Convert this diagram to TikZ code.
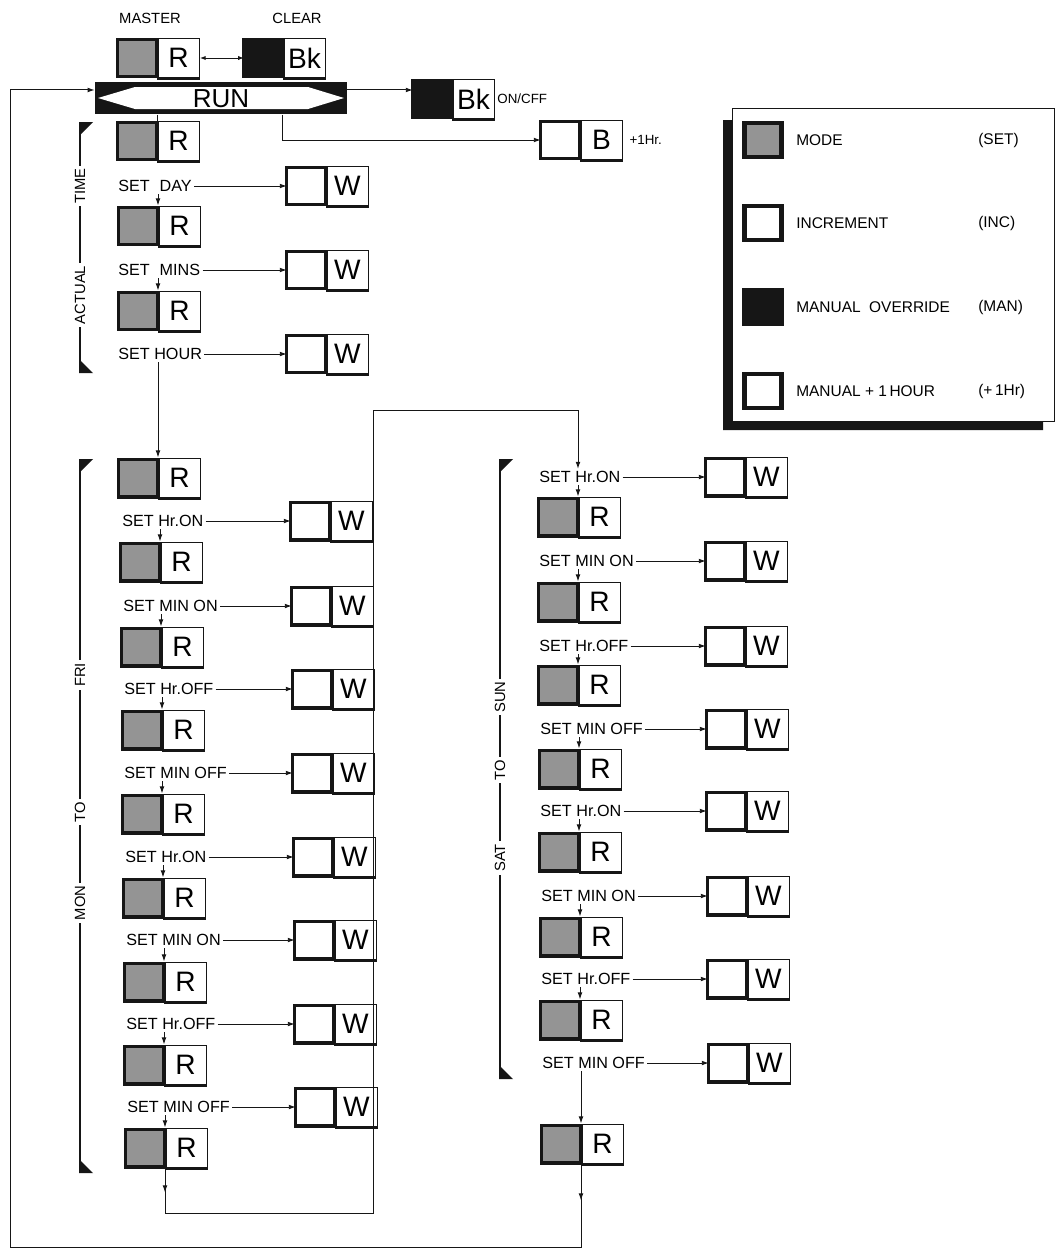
\documentclass[tikz,border=0pt]{standalone}
\usepackage{fontspec}
\setmainfont{Liberation Sans}
\usetikzlibrary{arrows.meta}
\definecolor{modegray}{RGB}{148,148,148}
\definecolor{ink}{RGB}{22,22,22}
\tikzset{
  keyface/.style={draw=ink,fill=white,line width=0.7pt,minimum width=1.05cm,minimum height=1cm,inner sep=0pt,font=\fontsize{20}{20}\selectfont},
  keyside/.style={draw=ink,fill=white,line width=2.4pt,outer sep=0pt,minimum width=0.98cm,minimum height=0.94cm,inner sep=0pt},
  keyfoot/.style={draw=ink,line width=2pt},
  lbl/.style={anchor=west,inner sep=1.5pt,font=\fontsize{11.5}{12}\selectfont},
  wire/.style={draw=ink,line width=0.7pt},
  arr/.style={wire,-{Latex[length=5pt,width=3.4pt]}},
  brk/.style={fill=white,rotate=90,inner sep=2pt,font=\fontsize{10.5}{12}\selectfont},
  legbox/.style={draw=ink,line width=3pt,minimum width=0.92cm,minimum height=0.85cm},
  lgtxt/.style={anchor=west,inner sep=0pt,font=\fontsize{11}{12}\selectfont},
}
\begin{document}
\begin{tikzpicture}[x=0.025cm,y=-0.025cm]
\useasboundingbox (0,0) rectangle (1060,1258);

\node[font=\fontsize{10.5}{12}\selectfont] (mastertxt) at (150,18) {MASTER};
\node[font=\fontsize{10.5}{12}\selectfont] (cleartxt) at (297,18) {CLEAR};
\node[keyface,anchor=west] (master) at (157,58) {R};
\node[keyside,fill=modegray,anchor=east] (master-s) at (master.west) {};
\draw[keyfoot] (master.south west) -- (master.south east);
\node[keyface,anchor=west] (clear) at (283,58) {Bk};
\node[keyside,fill=ink,anchor=east] (clear-s) at (clear.west) {};
\draw[keyfoot] (clear.south west) -- (clear.south east);
\draw[wire,{Latex[length=4pt,width=3pt]}-{Latex[length=4pt,width=3pt]}] (master.east) -- (clear-s.west);

\node[fill=ink,minimum width=6.3cm,minimum height=0.82cm,inner sep=0pt] (run) at (221,98) {};
\fill[white] (98,98) -- (135,87) -- (308,87) -- (344,98) -- (308,109) -- (135,109) -- cycle;
\node[font=\fontsize{18.5}{19}\selectfont,inner sep=0pt] (runtxt) at (221,99) {RUN};

\node[keyface,anchor=west] (onoff) at (452,99) {Bk};
\node[keyside,fill=ink,anchor=east] (onoff-s) at (onoff.west) {};
\draw[keyfoot] (onoff.south west) -- (onoff.south east);
\node[lbl,font=\fontsize{9.5}{10}\selectfont] (onofftxt) at (onoff.east) {ON/CFF};
\coordinate (runout) at ([yshift=5.7pt]run.east);
\draw[arr] (runout) -- (runout -| onoff-s.west);

\node[keyface,anchor=west] (plus1) at (580,140) {B};
\node[keyside,anchor=east] (plus1-s) at (plus1.west) {};
\draw[keyfoot] (plus1.south west) -- (plus1.south east);
\node[lbl,font=\fontsize{9.5}{10}\selectfont] (plus1txt) at ([xshift=3pt]plus1.east) {+1Hr.};
\coordinate (runtap) at ([xshift=44pt]run.south);
\draw[arr] (runtap) |- (plus1-s.west);

\node[keyface,anchor=west] (t0) at (157,141) {R};
\node[keyside,fill=modegray,anchor=east] (t0-s) at (t0.west) {};
\draw[keyfoot] (t0.south west) -- (t0.south east);
\draw[wire] (run.south -| t0.north west) -- (t0.north west);

\foreach \i/\yl/\yr/\txt in {1/186/226/{SET\hspace{7pt}DAY}, 2/270/311/{SET\hspace{7pt}MINS}, 3/354/478/{SET HOUR}}{
  \node[lbl] (tl\i) at (116,\yl) {\txt};
  \node[keyface,anchor=west] (tw\i) at (326,\yl) {W};
  \node[keyside,anchor=east] (tw\i-s) at (tw\i.west) {};
  \draw[keyfoot] (tw\i.south west) -- (tw\i.south east);
  \draw[arr] (tl\i.east) -- (tw\i-s.west);
  \node[keyface,anchor=west] (t\i) at (158,\yr) {R};
  \node[keyside,fill=modegray,anchor=east] (t\i-s) at (t\i.west) {};
  \draw[keyfoot] (t\i.south west) -- (t\i.south east);
  \draw[arr] (tl\i.south -| t\i.north west) -- (t\i.north west);
}

\foreach \i/\d/\yl/\yr/\txt in {1/1/521/562/SET Hr.ON, 2/2/606/647/SET MIN ON, 3/3/689/730/SET Hr.OFF, 4/3/773/814/SET MIN OFF,
  5/4/857/898/SET Hr.ON, 6/5/940/982/SET MIN ON, 7/5/1024/1065/SET Hr.OFF, 8/6/1107/1148/SET MIN OFF}{
  \node[lbl] (al\i) at (119+\d,\yl) {\txt};
  \node[keyface,anchor=west] (aw\i) at (329+\d,\yl) {W};
  \node[keyside,anchor=east] (aw\i-s) at (aw\i.west) {};
  \draw[keyfoot] (aw\i.south west) -- (aw\i.south east);
  \draw[arr] (al\i.east) -- (aw\i-s.west);
  \node[keyface,anchor=west] (a\i) at (159+\d,\yr) {R};
  \node[keyside,fill=modegray,anchor=east] (a\i-s) at (a\i.west) {};
  \draw[keyfoot] (a\i.south west) -- (a\i.south east);
  \draw[arr] (al\i.south -| a\i.north west) -- (a\i.north west);
}

\foreach \i/\d/\yl/\yr/\txt in {1/0/477/517/SET Hr.ON, 2/0/561/602/SET MIN ON, 3/0/646/685/SET Hr.OFF, 4/1/729/769/SET MIN OFF,
  5/1/811/852/SET Hr.ON, 6/2/896/937/SET MIN ON, 7/2/979/1020/SET Hr.OFF, 8/3/1063/1144/SET MIN OFF}{
  \node[lbl] (bl\i) at (537+\d,\yl) {\txt};
  \node[keyface,anchor=west] (bw\i) at (745+\d,\yl) {W};
  \node[keyside,anchor=east] (bw\i-s) at (bw\i.west) {};
  \draw[keyfoot] (bw\i.south west) -- (bw\i.south east);
  \draw[arr] (bl\i.east) -- (bw\i-s.west);
  \node[keyface,anchor=west] (b\i) at (578+\d,\yr) {R};
  \node[keyside,fill=modegray,anchor=east] (b\i-s) at (b\i.west) {};
  \draw[keyfoot] (b\i.south west) -- (b\i.south east);
  \draw[arr] (bl\i.south -| b\i.north west) -- (b\i.north west);
}

\coordinate (loopa) at (373,1213);
\coordinate (loopb) at (373,410);
\draw[arr] (a8.south west) -- ++(0,24);
\draw[arr] (a8.south west) |- (loopa) -- (loopb) -| (bl1.north -| b1.north west);

\coordinate (backa) at (10,1247);
\draw[arr] (b8.south west) -- ++(0,36);
\draw[arr] (b8.south west) |- (backa) |- (runout -| run.west);

\foreach \bx/\ya/\yb in {80/123/372, 80/460/1172, 500/460/1078}{
  \draw[ink,line width=1.2pt] (\bx,\ya) -- (\bx,\yb);
  \fill[ink] (\bx-1,\ya-1) -- (\bx+13,\ya-1) -- (\bx-1,\ya+13) -- cycle;
  \fill[ink] (\bx-1,\yb+1) -- (\bx+13,\yb+1) -- (\bx-1,\yb-13) -- cycle;
}
\foreach \n/\bx/\y/\txt in {time/80/186/TIME, actual/80/295/ACTUAL, fri/80/675/FRI, monto/80/812/TO, mon/80/903/MON,
  sun/500/697/SUN, satto/500/770/TO, sat/500/858/SAT}
  \node[brk] (\n) at (\bx,\y) {\txt};

\fill[ink] (723,120) -- (732,120) -- (732,420) -- (1043,420) -- (1043,430) -- (723,430) -- cycle;
\draw[ink,line width=0.6pt,fill=white] (732,108) rectangle (1054,421);
\foreach \n/\y/\col/\txt/\ab in {mode/140/modegray/MODE/{(SET)}, inc/223/white/INCREMENT/{(INC)},
  man/307/ink/{MANUAL\hspace{6pt}OVERRIDE}/{(MAN)}, hour/391/white/{MANUAL + 1\,HOUR}/{(+\,1Hr)}}{
  \node[legbox,fill=\col] (lg\n) at (763,\y) {};
  \node[lgtxt] (lg\n-t) at (796,\y) {\txt};
  \node[lgtxt] (lg\n-a) at (978,\y) {\ab};
}
\end{tikzpicture}
\end{document}
